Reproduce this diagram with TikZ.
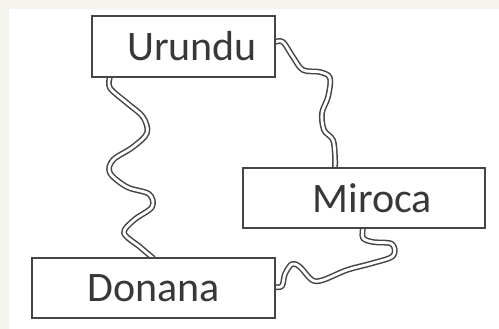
\documentclass[tikz,border=0pt]{standalone}
\usepackage{fontspec}
\setmainfont{Carlito}
\definecolor{bgbeige}{HTML}{F4F3EC}
\definecolor{edgegray}{HTML}{454545}
\definecolor{txtgray}{HTML}{383838}
\tikzset{
  box/.style={draw=edgegray, line width=1.5pt, fill=white, rectangle, inner sep=0pt,
    text=txtgray, font=\fontsize{42}{42}\selectfont},
  river/.style={double=white, draw=edgegray, line width=1.5pt, double distance=2.8pt,
    line cap=round, line join=round}
}
\begin{document}
\begin{tikzpicture}[x=1pt,y=-1pt]
\useasboundingbox (0,0) rectangle (499,329);
\fill[bgbeige] (0,0) rectangle (499,329);
\fill[white] (9,9) rectangle (499,329);
% rivers
\coordinate (ustart) at (110,77);
\coordinate (dend) at (153,258);
\coordinate (uright) at (275,42);
\coordinate (mtop) at (335,168);
\coordinate (mbot) at (363,228);
\coordinate (dright) at (275,287);
\draw[river] plot[smooth, tension=0.55] coordinates {(ustart) (110,88) (127,103) (143,117) (147,133) (133,147) (113,160) (110,173) (127,187) (149,194) (152,207) (134,220) (124,233) (140,247) (dend)};
\draw[river] plot[smooth, tension=0.55] coordinates {(uright) (283,42) (293,57) (303,70) (320,72) (330,78) (328,97) (322,113) (324,130) (333,140) (335,157) (mtop)};
\draw[river] plot[smooth, tension=0.55] coordinates {(mbot) (363,238) (373,242) (392,244) (393,256) (373,263) (347,270) (323,280) (312,280) (300,267) (292,264) (285,274) (282,286) (dright)};
% boxes
\node[box, minimum width=183pt, minimum height=61pt] (u) at (183.5,46.5) {\hspace*{17pt}Urundu};
\node[box, minimum width=242pt, minimum height=60pt] (m) at (364,198) {\hspace*{17pt}Miroca};
\node[box, minimum width=243pt, minimum height=60pt] (d) at (153.5,288) {Donana};
\end{tikzpicture}
\end{document}
